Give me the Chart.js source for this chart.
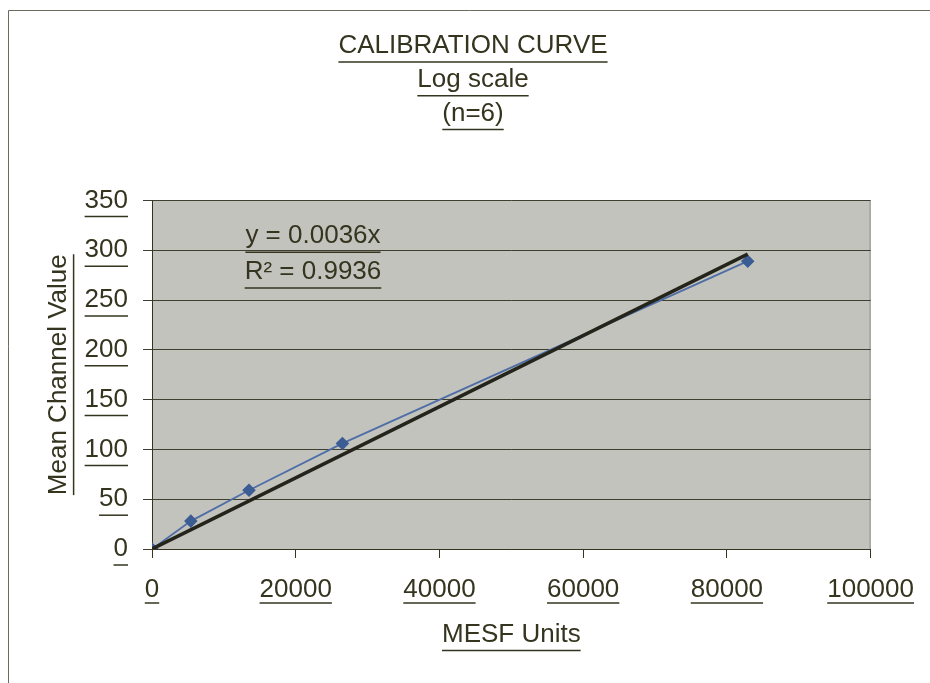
<!DOCTYPE html>
<html>
<head>
<meta charset="utf-8">
<script src="https://cdn.jsdelivr.net/npm/chart.js@4.4.1/dist/chart.umd.min.js"></script>
<style>
  html, body { margin: 0; padding: 0; background: #fff; }
  #wrap { width: 930px; height: 683px; }
</style>
</head>
<body>
<div id="wrap"><canvas id="calChart" width="930" height="683"></canvas></div>
<script>
// measured points (MESF units vs mean channel value)
const mesfUnits = [0, 5400, 13500, 26500, 82900];
const channelValues = [0, 28, 59, 106, 289];

// linear trendline through origin, y = 0.0036x
const trendX = [0, 82900];
const trendY = [0, 296];

const titleLines = ['CALIBRATION CURVE', 'Log scale', '(n=6)'];
const xTitle = 'MESF Units';
const yTitle = 'Mean Channel Value';
const eqLines = ['y = 0.0036x', 'R\u00b2 = 0.9936'];
// anchor of the equation label in data coordinates
const eqAnchorX = 22400;
const eqAnchorY = [314, 278];

const ink = '#34341f';
const fontFamily = '"Liberation Sans", Arial, sans-serif';
const fontSize = 26;

function underline(ctx, x1, x2, y) {
    ctx.beginPath();
    ctx.moveTo(x1, y);
    ctx.lineTo(x2, y);
    ctx.stroke();
}

const decorPlugin = {
    id: 'decor',
    beforeDraw(chart) {
        const ctx = chart.ctx;
        const a = chart.chartArea;
        ctx.save();
        // outer chart frame (only top and left are inside the picture)
        ctx.strokeStyle = '#6b6b60';
        ctx.lineWidth = 1;
        ctx.beginPath();
        ctx.moveTo(8.5, 683);
        ctx.lineTo(8.5, 10.5);
        ctx.lineTo(930, 10.5);
        ctx.stroke();
        // plot area background
        ctx.fillStyle = '#c3c3be';
        ctx.fillRect(a.left, a.top, a.right - a.left, a.bottom - a.top);
        ctx.strokeStyle = '#8c8c86';
        ctx.beginPath();
        ctx.moveTo(a.right - 0.5, a.top);
        ctx.lineTo(a.right - 0.5, a.bottom);
        ctx.stroke();
        ctx.restore();
    },
    afterDraw(chart) {
        const ctx = chart.ctx;
        const xs = chart.scales.x;
        const ys = chart.scales.y;
        ctx.save();
        ctx.font = fontSize + 'px ' + fontFamily;
        ctx.strokeStyle = ink;
        ctx.fillStyle = ink;
        ctx.lineWidth = 1.5;

        // title underlines
        const tb = chart.titleBlock;
        const tOpt = chart.options.plugins.title;
        const tlh = fontSize * 1.3;
        const cx = (tb.left + tb.right) / 2;
        titleLines.forEach((t, i) => {
            const cy = tb.top + tOpt.padding.top + tlh * (i + 0.5);
            const w = ctx.measureText(t).width;
            underline(ctx, cx - w / 2, cx + w / 2, cy + fontSize * 0.5 + 3);
        });

        // x tick label underlines
        const xOpt = chart.options.scales.x;
        xs.ticks.forEach(t => {
            const px = xs.getPixelForValue(t.value);
            const w = ctx.measureText(t.label).width;
            const y = xs.top + xOpt.grid.tickLength + xOpt.ticks.padding + fontSize + 3;
            underline(ctx, px - w / 2, px + w / 2, y);
        });

        // y tick label underlines
        const yOpt = chart.options.scales.y;
        ys.ticks.forEach(t => {
            const py = ys.getPixelForValue(t.value);
            const w = ctx.measureText(t.label).width;
            const right = ys.right - yOpt.grid.tickLength - yOpt.ticks.padding;
            underline(ctx, right - w, right, py + fontSize * 0.5 + 3);
        });

        // axis title underlines
        const lh = fontSize * 1.2;
        const xw = ctx.measureText(xTitle).width;
        const xty = xs.bottom - (lh / 2 + xOpt.title.padding.bottom);
        underline(ctx, (xs.left + xs.right) / 2 - xw / 2, (xs.left + xs.right) / 2 + xw / 2, xty + fontSize * 0.5 + 3);

        const yw = ctx.measureText(yTitle).width;
        const ytx = ys.left + lh / 2 + yOpt.title.padding.top;
        const ymid = (ys.top + ys.bottom) / 2;
        ctx.beginPath();
        ctx.moveTo(ytx + fontSize * 0.5 + 2, ymid - yw / 2);
        ctx.lineTo(ytx + fontSize * 0.5 + 2, ymid + yw / 2);
        ctx.stroke();

        // regression equation label
        ctx.textAlign = 'center';
        ctx.textBaseline = 'middle';
        const ex = xs.getPixelForValue(eqAnchorX);
        eqLines.forEach((t, i) => {
            const ey = ys.getPixelForValue(eqAnchorY[i]);
            ctx.fillText(t, ex, ey);
            const w = ctx.measureText(t).width;
            underline(ctx, ex - w / 2, ex + w / 2, ey + fontSize * 0.5 + 3);
        });
        ctx.restore();
    }
};

const font = { family: fontFamily, size: fontSize, lineHeight: 1.2 };
const plainTick = v => String(v);

new Chart('calChart', {
    type: 'scatter',
    data: {
        datasets: [{
            label: 'Linear trend',
            data: trendX.map((x, i) => ({ x: x, y: trendY[i] })),
            showLine: true,
            borderColor: '#24241a',
            borderWidth: 3.5,
            pointRadius: 0,
            order: 0
        }, {
            label: 'Calibration',
            data: mesfUnits.map((x, i) => ({ x: x, y: channelValues[i] })),
            showLine: true,
            borderColor: '#4f6ea6',
            borderWidth: 1.8,
            pointStyle: 'rectRot',
            pointRadius: 5.5,
            pointBackgroundColor: '#3c5c94',
            pointBorderColor: '#3c5c94',
            order: 1
        }]
    },
    options: {
        responsive: false,
        animation: false,
        layout: { padding: { left: 16, top: 10, right: 0, bottom: 0 } },
        plugins: {
            legend: { display: false },
            tooltip: { enabled: false },
            title: {
                display: true,
                text: titleLines,
                color: ink,
                font: { family: fontFamily, size: fontSize, weight: 'normal', lineHeight: 1.3 },
                padding: { top: 19, bottom: 70 }
            }
        },
        scales: {
            x: {
                type: 'linear',
                min: 0,
                max: 100000,
                afterFit: s => { s.height = 134; },
                ticks: { stepSize: 20000, color: ink, font: font, padding: 16, maxRotation: 0, callback: plainTick },
                grid: { drawOnChartArea: false, drawTicks: true, tickLength: 9, color: ink, lineWidth: 1 },
                border: { display: true, color: ink, width: 1 },
                title: { display: true, text: xTitle, color: ink, font: font, padding: { top: 0, bottom: 33 } }
            },
            y: {
                min: 0,
                max: 350,
                afterFit: s => { s.width = 136; },
                ticks: { stepSize: 50, color: ink, font: font, padding: 15, callback: plainTick },
                grid: { tickLength: 9, color: '#3f3f30', lineWidth: 1 },
                border: { display: true, color: ink, width: 1 },
                title: { display: true, text: yTitle, color: ink, font: font, padding: { top: 27, bottom: 0 } }
            },
            // empty right-hand strip so the plot ends where the reference does
            y2: {
                position: 'right',
                min: 0,
                max: 350,
                afterFit: s => { s.width = 58; },
                ticks: { display: false },
                grid: { display: false, drawTicks: false },
                border: { display: false }
            }
        }
    },
    plugins: [decorPlugin]
});
</script>
</body>
</html>
